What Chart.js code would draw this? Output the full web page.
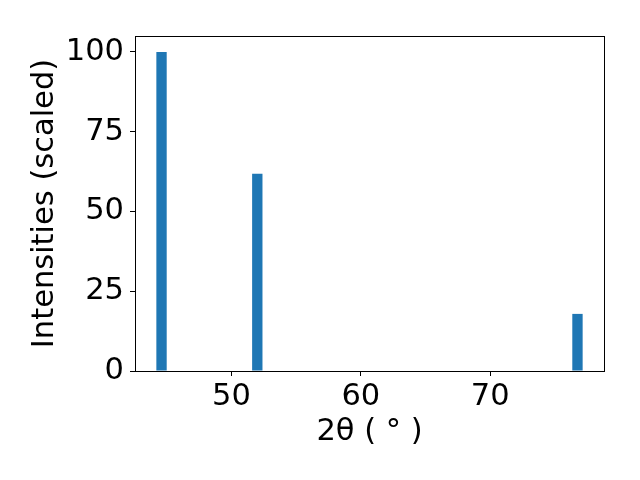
<!DOCTYPE html>
<html>
<head>
<meta charset="utf-8">
<script src="https://cdn.jsdelivr.net/npm/chart.js@4/dist/chart.umd.min.js"></script>
<style>
  html, body { margin: 0; padding: 0; background: #fff; }
  #wrap { width: 640px; height: 480px; }
</style>
</head>
<body>
<div id="wrap"><canvas id="chart" width="640" height="480"></canvas></div>
<script>
// peak positions (2theta, degrees) and scaled intensities
const peakPositions = [44.6, 52.0, 76.74];
const peakIntensities = [100, 61.8, 17.9];
const xTicks = [50, 60, 70];
const yTicks = [0, 25, 50, 75, 100];
const BAR_WIDTH = 0.8;     // in degrees, like matplotlib's default bar width
const X_RANGE = [42.55, 78.79];
const Y_RANGE = [0, 105];

const FONT = { family: "'DejaVu Sans', sans-serif", size: 30.5 };

// smallest spacing between peaks, used to turn bar width into a percentage
function minGap(xs) {
  let gap = Infinity;
  for (let i = 1; i < xs.length; i++) gap = Math.min(gap, Math.abs(xs[i] - xs[i - 1]));
  return gap;
}

const frame = {
  id: 'frame',
  afterDraw(chart) {
    const { ctx, chartArea: a } = chart;
    ctx.save();
    ctx.strokeStyle = '#000';
    ctx.lineWidth = 1;
    ctx.strokeRect(Math.round(a.left) + 0.5, Math.round(a.top) + 0.5,
      Math.round(a.right - a.left), Math.round(a.bottom - a.top));
    ctx.restore();
  }
};

new Chart(document.getElementById('chart'), {
  type: 'bar',
  data: {
    datasets: [{
      data: peakPositions.map((x, i) => ({ x: x, y: peakIntensities[i] })),
      backgroundColor: '#1f77b4',
      borderWidth: 0,
      categoryPercentage: 1,
      barPercentage: BAR_WIDTH / minGap(peakPositions)
    }]
  },
  options: {
    responsive: false,
    animation: false,
    layout: { padding: { top: 36, right: 36, left: 0, bottom: 0 } },
    plugins: { legend: { display: false }, tooltip: { enabled: false } },
    scales: {
      x: {
        type: 'linear',
        min: X_RANGE[0],
        max: X_RANGE[1],
        offset: false,
        afterBuildTicks: s => { s.ticks = xTicks.map(v => ({ value: v })); },
        afterFit: s => { s.height = 109; },
        grid: { offset: false, drawOnChartArea: false, drawTicks: true, tickLength: 5, color: '#000' },
        border: { display: true, color: '#000' },
        ticks: { color: '#000', font: FONT, padding: 3, maxRotation: 0 },
        title: { display: true, text: '2θ ( ° )', color: '#000', font: FONT, padding: { top: 0, bottom: 30 } }
      },
      y: {
        min: Y_RANGE[0],
        max: Y_RANGE[1],
        afterBuildTicks: s => { s.ticks = yTicks.map(v => ({ value: v })); },
        afterFit: s => { s.width = 135; },
        grid: { offset: false, drawOnChartArea: false, drawTicks: true, tickLength: 5, color: '#000' },
        border: { display: true, color: '#000' },
        ticks: { color: '#000', font: FONT, padding: 6 },
        title: { display: true, text: 'Intensities (scaled)', color: '#000', font: FONT, padding: { top: 27, bottom: 0 } }
      }
    }
  },
  plugins: [frame]
});
</script>
</body>
</html>
